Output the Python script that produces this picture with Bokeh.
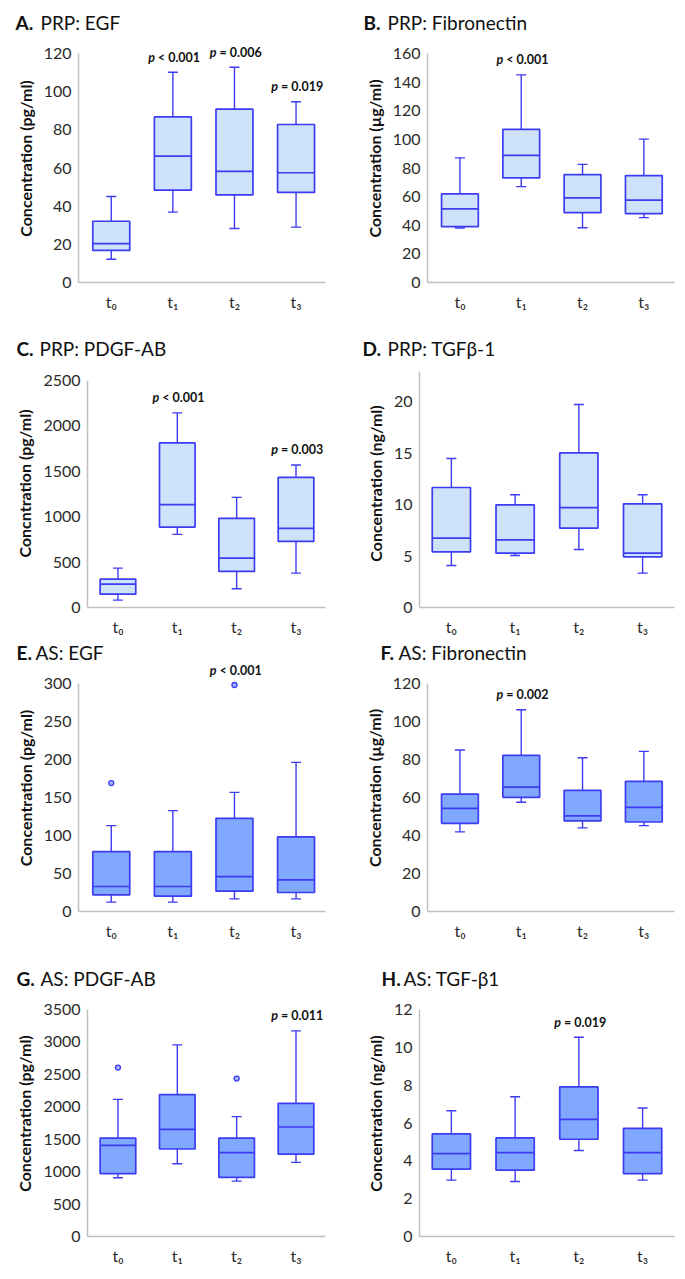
from bokeh.plotting import figure
from bokeh.layouts import column, row
from bokeh.models import Range1d, FixedTicker, Label
from bokeh.embed import file_html
from bokeh.resources import INLINE

times = ["t\u2080", "t\u2081", "t\u2082", "t\u2083"]
xpos = [1, 2, 3, 4]

# A. PRP: EGF (pg/ml)
a_low = [12.2, 36.9, 28.3, 29.0]
a_q1 = [16.8, 48.4, 45.9, 47.2]
a_med = [20.4, 66.2, 58.2, 57.5]
a_q3 = [32.1, 86.8, 90.8, 82.8]
a_high = [45.1, 110.2, 112.8, 94.7]
a_p = {2: "< 0.001", 3: "= 0.006", 4: "= 0.019"}

# B. PRP: Fibronectin (ug/ml)
b_low = [38.1, 67.0, 38.3, 45.3]
b_q1 = [39.0, 73.1, 48.8, 48.1]
b_med = [51.4, 88.8, 59.1, 57.5]
b_q3 = [61.9, 107.0, 75.4, 74.7]
b_high = [87.1, 145.1, 82.5, 100.2]
b_p = {2: "< 0.001"}

# C. PRP: PDGF-AB (pg/ml)
c_low = [81, 805, 206, 379]
c_q1 = [147, 886, 397, 728]
c_med = [257, 1132, 544, 871]
c_q3 = [312, 1812, 982, 1434]
c_high = [434, 2143, 1213, 1570]
c_p = {2: "< 0.001", 4: "= 0.003"}

# D. PRP: TGFb-1 (ng/ml)
d_low = [4.08, 5.06, 5.64, 3.34]
d_q1 = [5.41, 5.28, 7.71, 4.93]
d_med = [6.74, 6.58, 9.72, 5.28]
d_q3 = [11.67, 9.98, 15.04, 10.08]
d_high = [14.49, 10.96, 19.74, 10.96]
d_p = {}

# E. AS: EGF (pg/ml)
e_low = [12.3, 12.3, 16.6, 16.6]
e_q1 = [21.9, 20.1, 26.7, 25.0]
e_med = [32.9, 32.9, 46.0, 41.6]
e_q3 = [78.8, 78.8, 122.6, 98.1]
e_high = [113.0, 132.7, 156.8, 196.2]
e_out_x = [1, 3]
e_out_y = [169, 298]
e_p = {3: "< 0.001"}

# F. AS: Fibronectin (ug/ml)
f_low = [41.9, 57.5, 44.0, 45.2]
f_q1 = [46.4, 60.1, 47.7, 47.1]
f_med = [54.3, 65.5, 50.3, 54.8]
f_q3 = [61.8, 82.2, 63.8, 68.5]
f_high = [85.0, 106.2, 80.9, 84.3]
f_p = {2: "= 0.002"}

# G. AS: PDGF-AB (pg/ml)
g_low = [906, 1122, 854, 1143]
g_q1 = [968, 1349, 911, 1271]
g_med = [1405, 1652, 1292, 1688]
g_q3 = [1518, 2187, 1518, 2054]
g_high = [2115, 2954, 1848, 3171]
g_out_x = [1, 3]
g_out_y = [2604, 2435]
g_p = {4: "= 0.011"}

# H. AS: TGF-b1 (ng/ml)
h_low = [2.98, 2.91, 4.55, 2.98]
h_q1 = [3.56, 3.51, 5.14, 3.32]
h_med = [4.38, 4.43, 6.19, 4.43]
h_q3 = [5.42, 5.21, 7.91, 5.72]
h_high = [6.65, 7.39, 10.53, 6.79]
h_p = {3: "= 0.019"}

FONT = "Lato"
STROKE = "#3c3cf2"
PRP_FILL = "#cfe2fc"
AS_FILL = "#80a8ff"
AXIS_GRAY = "#c0c0c0"

LEFT_W = 340
RIGHT_W = 345


def title_fig(letter, name, w, h, x_letter, x_name, center_from_top):
    t = figure(width=w, height=h, output_backend="svg", toolbar_location=None,
               x_range=Range1d(0, w), y_range=Range1d(0, h),
               x_axis_location=None, y_axis_location=None,
               min_border=0, min_border_left=0, min_border_right=0,
               min_border_top=0, min_border_bottom=0, frame_align=False)
    t.title.visible = False
    t.outline_line_color = None
    t.xgrid.visible = False
    t.ygrid.visible = False
    yc = h - center_from_top
    t.add_layout(Label(x=x_letter, y=yc, text=letter, text_font=FONT,
                       text_font_style="bold", text_font_size="19px",
                       text_color="#111111", text_baseline="middle",
                       text_align="left"))
    t.add_layout(Label(x=x_name, y=yc, text=name, text_font=FONT,
                       text_font_style="normal", text_font_size="19px",
                       text_color="#111111", text_baseline="middle",
                       text_align="left"))
    return t


def plot_fig(ylabel, stats, pvals, fill, yticks, ymax, xr,
             w, h, bl, br, headroom, bb, out_x=None, out_y=None):
    low, q1, med, q3, high = stats
    frame_h = h - bb
    axis_px = frame_h - headroom
    ytop = ymax * frame_h / axis_px
    p = figure(width=w, height=h, output_backend="svg", toolbar_location=None,
               x_range=Range1d(xr[0], xr[1]), y_range=Range1d(0, ytop),
               min_border_left=bl, min_border_right=br,
               min_border_top=0, min_border_bottom=bb, frame_align=False,
               background_fill_color="white", border_fill_color="white")
    p.title.visible = False
    p.outline_line_color = None
    p.xgrid.visible = False
    p.ygrid.visible = False

    p.segment(x0=xpos, x1=xpos, y0=q3, y1=high, line_color=STROKE, line_width=1.4)
    p.segment(x0=xpos, x1=xpos, y0=low, y1=q1, line_color=STROKE, line_width=1.4)
    p.scatter(x=xpos, y=high, marker="dash", size=10, line_color=STROKE, line_width=1.4)
    p.scatter(x=xpos, y=low, marker="dash", size=10, line_color=STROKE, line_width=1.4)
    p.vbar(x=xpos, width=0.6, bottom=q1, top=q3, fill_color=fill,
           line_color=STROKE, line_width=1.7)
    p.segment(x0=[x - 0.3 for x in xpos], x1=[x + 0.3 for x in xpos],
              y0=med, y1=med, line_color=STROKE, line_width=1.7)
    if out_x:
        p.scatter(x=out_x, y=out_y, marker="circle", size=5,
                  fill_color="#a3b3ff", line_color=STROKE, line_width=1.3)

    p.xaxis.ticker = FixedTicker(ticks=xpos)
    p.xaxis.major_label_overrides = {x: t for x, t in zip(xpos, times)}
    p.yaxis.ticker = FixedTicker(ticks=yticks)
    p.yaxis.bounds = (0, ymax)
    for ax in (p.xaxis[0], p.yaxis[0]):
        ax.axis_line_color = AXIS_GRAY
        ax.axis_line_width = 1.5
        ax.major_tick_line_color = None
        ax.minor_tick_line_color = None
        ax.major_tick_out = 0
        ax.major_tick_in = 0
        ax.major_label_text_font = FONT
        ax.major_label_text_font_size = "16px"
        ax.major_label_text_color = "#2b2b2b"
    p.xaxis.major_label_standoff = 9
    p.yaxis.major_label_standoff = 7
    p.yaxis.axis_label = ylabel
    p.yaxis.axis_label_text_font = FONT
    p.yaxis.axis_label_text_font_size = "16px"
    p.yaxis.axis_label_text_font_style = "bold"
    p.yaxis.axis_label_text_color = "#111111"
    p.yaxis.axis_label_standoff = 6

    for xi, txt in pvals.items():
        top = high[xi - 1]
        if out_x:
            for ox, oy in zip(out_x, out_y):
                if ox == xi:
                    top = max(top, oy)
        p.add_layout(Label(x=xi, y=top, x_offset=-18, y_offset=15, text="p",
                           text_font=FONT, text_font_style="bold italic",
                           text_font_size="12.5px", text_color="#111111",
                           text_baseline="middle", text_align="right"))
        p.add_layout(Label(x=xi, y=top, x_offset=-15, y_offset=15, text=txt,
                           text_font=FONT, text_font_style="bold",
                           text_font_size="12.5px", text_color="#111111",
                           text_baseline="middle", text_align="left"))
    return p


# Row 1
tA = title_fig("A.", "PRP: EGF", LEFT_W, 34, 15, 40, 22)
pA = plot_fig("Concentration (pg/ml)", (a_low, a_q1, a_med, a_q3, a_high), a_p,
              PRP_FILL, [0, 20, 40, 60, 80, 100, 120], 120, (0.468, 4.478),
              LEFT_W, 291, 78, 15, 19, 43)
tB = title_fig("B.", "PRP: Fibronectin", RIGHT_W, 34, 23, 47, 21.5)
pB = plot_fig("Concentration (\u00b5g/ml)", (b_low, b_q1, b_med, b_q3, b_high), b_p,
              PRP_FILL, [0, 20, 40, 60, 80, 100, 120, 140, 160], 160, (0.471, 4.50),
              RIGHT_W, 291, 87, 11, 19, 43)
# Row 2
tC = title_fig("C.", "PRP: PDGF-AB", LEFT_W, 34, 16, 39, 23)
pC = plot_fig("Concntration (pg/ml)", (c_low, c_q1, c_med, c_q3, c_high), c_p,
              PRP_FILL, [0, 500, 1000, 1500, 2000, 2500], 2500, (0.487, 4.497),
              LEFT_W, 281, 87, 15, 21, 33)
tD = title_fig("D.", "PRP: TGF\u03b2-1", RIGHT_W, 34, 22, 47, 23)
pD = plot_fig("Concentration (ng/ml)", (d_low, d_q1, d_med, d_q3, d_high), d_p,
              PRP_FILL, [0, 5, 10, 15, 20], 22.95, (0.5, 4.5),
              RIGHT_W, 281, 79, 11, 12, 33)
# Row 3
tE = title_fig("E.", "AS: EGF", LEFT_W, 24, 16, 35, 12)
pE = plot_fig("Concentration (pg/ml)", (e_low, e_q1, e_med, e_q3, e_high), e_p,
              AS_FILL, [0, 50, 100, 150, 200, 250, 300], 300, (0.468, 4.478),
              LEFT_W, 296, 78, 15, 19, 49, e_out_x, e_out_y)
tF = title_fig("F.", "AS: Fibronectin", RIGHT_W, 24, 40, 58, 12)
pF = plot_fig("Concentration (\u00b5g/ml)", (f_low, f_q1, f_med, f_q3, f_high), f_p,
              AS_FILL, [0, 20, 40, 60, 80, 100, 120], 120, (0.471, 4.50),
              RIGHT_W, 296, 87, 11, 19, 49)
# Row 4
tG = title_fig("G.", "AS: PDGF-AB", LEFT_W, 30, 16, 40, 18)
pG = plot_fig("Concentration (pg/ml)", (g_low, g_q1, g_med, g_q3, g_high), g_p,
              AS_FILL, [0, 500, 1000, 1500, 2000, 2500, 3000, 3500], 3500, (0.487, 4.497),
              LEFT_W, 285, 87, 15, 19, 39, g_out_x, g_out_y)
tH = title_fig("H.", "AS: TGF-\u03b21", RIGHT_W, 30, 41, 63, 18)
pH = plot_fig("Concentration (ng/ml)", (h_low, h_q1, h_med, h_q3, h_high), h_p,
              AS_FILL, [0, 2, 4, 6, 8, 10, 12], 12, (0.5, 4.5),
              RIGHT_W, 285, 79, 11, 19, 39)

layout = column(
    row(column(tA, pA), column(tB, pB)),
    row(column(tC, pC), column(tD, pD)),
    row(column(tE, pE), column(tF, pF)),
    row(column(tG, pG), column(tH, pH)),
)
open("out.html", "w").write(file_html(layout, INLINE))
